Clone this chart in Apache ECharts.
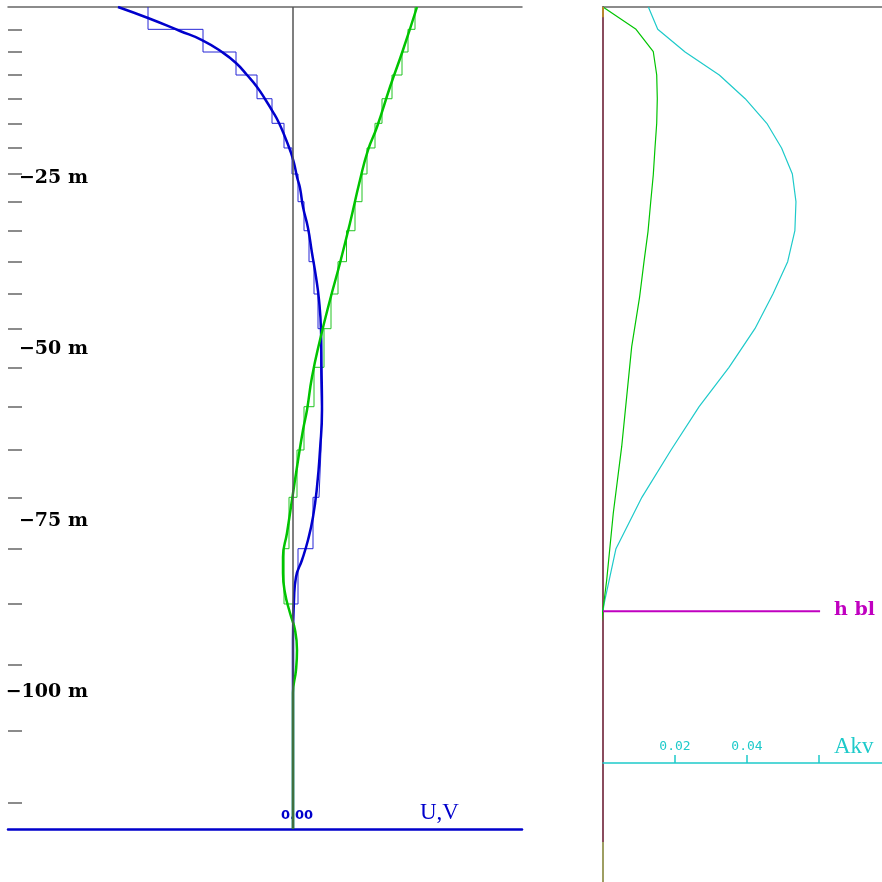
<!DOCTYPE html>
<html>
<head>
<meta charset="utf-8">
<script src="https://cdn.jsdelivr.net/npm/echarts@6/dist/echarts.min.js"></script>
<style>html,body{margin:0;padding:0;background:#fff}#c{width:882px;height:882px}</style>
</head>
<body>
<div id="c"></div>
<script>
// ---- data ----
const layerInterfaces = [0, -3.26, -6.57, -9.93, -13.39, -16.98, -20.58, -24.38, -28.42, -32.66, -37.18, -41.90, -46.96, -52.60, -58.35, -64.67, -71.58, -79.08, -87.15, -96.01, -105.65, -116.16, -120];
const depthLabels = [-25, -50, -75, -100];
const uLayer = [-0.145, -0.090, -0.057, -0.036, -0.021, -0.009, -0.001, 0.005, 0.011, 0.016, 0.021, 0.025, 0.0275, 0.0285, 0.028, 0.026, 0.020, 0.005, 0.0005, 0, 0, 0];
const vLayer = [0.122, 0.115, 0.109, 0.099, 0.089, 0.082, 0.074, 0.069, 0.062, 0.0535, 0.045, 0.038, 0.031, 0.021, 0.011, 0.004, -0.004, -0.009, 0, 0, 0, 0];
const uCurveDepth = [0, -1.61, -3.50, -4.82, -6.57, -8.18, -9.93, -11.68, -13.43, -15.33, -16.93, -18.98, -20.88, -22.77, -24.82, -26.42, -29.20, -32.26, -35.91, -39.42, -42.77, -47.15, -52.55, -58.83, -64.67, -70.07, -74.45, -77.81, -80.73, -83.21, -86.57, -92.41, -120];
const uCurveVal = [-0.175, -0.145, -0.113, -0.091, -0.071, -0.057, -0.046, -0.036, -0.028, -0.020, -0.014, -0.008, -0.003, 0.001, 0.004, 0.007, 0.010, 0.015, 0.019, 0.023, 0.026, 0.028, 0.0285, 0.029, 0.027, 0.024, 0.020, 0.015, 0.009, 0.003, 0.001, 0.000, 0];
const vCurveDepth = [0, -6.28, -11.68, -17.52, -20.88, -25.26, -31.53, -37.37, -42.77, -48.61, -54.01, -58.83, -61.75, -67.15, -71.97, -76.79, -80.29, -82.63, -85.55, -88.47, -90.95, -93.87, -96.79, -100.15, -120];
const vCurveVal = [0.124, 0.110, 0.097, 0.084, 0.075, 0.067, 0.057, 0.047, 0.037, 0.027, 0.019, 0.014, 0.010, 0.004, -0.001, -0.006, -0.010, -0.010, -0.008, -0.003, 0.002, 0.004, 0.003, 0, 0];
const akvDepth = [0, -3.26, -6.57, -9.93, -13.39, -16.98, -20.58, -24.38, -28.42, -32.66, -37.18, -41.90, -46.96, -52.60, -58.35, -64.67, -71.58, -79.08, -87.15, -88.2];
const akvVal = [0.0126, 0.0152, 0.0228, 0.0323, 0.0395, 0.0455, 0.0496, 0.0526, 0.0536, 0.0533, 0.0513, 0.0472, 0.0422, 0.0350, 0.0267, 0.0189, 0.0108, 0.0036, 0.0003, 0];
const g2Depth = [0, -3.26, -6.53, -9.93, -13.39, -16.98, -20.58, -24.48, -28.47, -32.80, -37.18, -42.44, -49.59, -64.19, -73.87, -83.65, -88.28, -127.45];
const g2Val = [0, 0.00917, 0.01397, 0.01492, 0.01508, 0.01492, 0.01444, 0.01397, 0.01325, 0.0125, 0.01139, 0.01014, 0.00797, 0.00519, 0.00286, 0.00103, -0.00008, -0.00936];
const hbl = -88.2;
const hblExtent = 0.0603;
const akvTicks = [0.02, 0.04, 0.06];
const akvLabels = [0.02, 0.04];
const bottomDepthRight = -127.74;
const oliveStart = -121.9;
const orangeEnd = -1.5;

// ---- build ----
function stepData(vals) {
  const out = [];
  for (let k = 0; k < vals.length; k++) {
    out.push([vals[k], layerInterfaces[k]]);
    out.push([vals[k], layerInterfaces[k + 1]]);
  }
  return out;
}
const zip = (xs, ys) => xs.map((x, i) => [x, ys[i]]);

const BLUE = '#0000CC', GREEN = '#00C400', CYAN = '#1ECACA', MAG = '#C000C0';
const chart = echarts.init(document.getElementById('c'));
const option = {
  animation: false,
  backgroundColor: '#fff',
  grid: [
    { left: 8, top: 7, width: 514, height: 822 },
    { left: 603, top: 7, width: 279, height: 875 },
    { left: 603, top: 700, width: 279, height: 63 }
  ],
  xAxis: [
    { gridIndex: 0, type: 'value', min: -0.285, max: 0.229, position: 'bottom',
      axisLine: { show: true, onZero: false, lineStyle: { color: BLUE, width: 2.5 } },
      axisTick: { show: false }, splitLine: { show: false },
      axisLabel: { inside: true, customValues: [0], formatter: v => v.toFixed(2), color: BLUE,
        fontWeight: 'bold', fontSize: 13, fontFamily: 'DejaVu Sans', margin: 7, padding: [0, 0, 0, 8] } },
    { gridIndex: 0, type: 'value', min: -0.285, max: 0.229, position: 'top',
      axisLine: { show: true, onZero: false, lineStyle: { color: '#666', width: 1.5 } },
      axisTick: { show: false }, axisLabel: { show: false }, splitLine: { show: false } },
    { gridIndex: 1, type: 'value', min: 0, max: 0.0775, position: 'top',
      axisLine: { show: true, onZero: false, lineStyle: { color: '#666', width: 1.5 } },
      axisTick: { show: false }, axisLabel: { show: false }, splitLine: { show: false } },
    { gridIndex: 2, type: 'value', min: 0, max: 0.0775, position: 'bottom',
      axisLine: { show: true, onZero: false, lineStyle: { color: CYAN, width: 1.5 } },
      axisTick: { show: true, inside: true, length: 8, customValues: akvTicks, lineStyle: { color: CYAN, width: 1.5 } },
      axisLabel: { inside: true, customValues: akvLabels, formatter: v => v.toFixed(2), color: CYAN,
        fontSize: 13, fontFamily: 'DejaVu Sans Mono', margin: 10 },
      splitLine: { show: false } }
  ],
  yAxis: [
    { gridIndex: 0, type: 'value', min: -120, max: 0,
      axisLine: { show: false, onZero: false },
      axisTick: { show: true, inside: true, length: 14, customValues: layerInterfaces.slice(1, -1), lineStyle: { color: '#666', width: 1.5 } },
      axisLabel: { inside: true, customValues: depthLabels, formatter: v => '\u2212' + Math.abs(v) + ' m',
        align: 'right', margin: 80, fontFamily: 'DejaVu Serif', fontWeight: 'bold', fontSize: 19, color: '#000' },
      splitLine: { show: false } },
    { gridIndex: 1, type: 'value', min: bottomDepthRight, max: 0,
      axisLine: { show: true, onZero: false, lineStyle: { color: '#8A4C5E', width: 2 } },
      axisTick: { show: false }, axisLabel: { show: false }, splitLine: { show: false } },
    { gridIndex: 2, type: 'value', min: 0, max: 1, show: false }
  ],
  series: [
    { type: 'line', xAxisIndex: 0, yAxisIndex: 0, data: stepData(uLayer), symbol: 'none',
      lineStyle: { color: '#2626D6', width: 1 },
      markLine: { silent: true, symbol: 'none', label: { show: false },
        lineStyle: { color: '#555', width: 1.5, type: 'solid' }, data: [{ xAxis: 0 }] } },
    { type: 'line', xAxisIndex: 0, yAxisIndex: 0, data: stepData(vLayer), symbol: 'none',
      lineStyle: { color: '#22C422', width: 1 } },
    { type: 'line', xAxisIndex: 0, yAxisIndex: 0, data: zip(uCurveVal, uCurveDepth), symbol: 'none', smooth: true,
      lineStyle: { color: BLUE, width: 2.5 } },
    { type: 'line', xAxisIndex: 0, yAxisIndex: 0, data: zip(vCurveVal, vCurveDepth), symbol: 'none', smooth: true,
      lineStyle: { color: GREEN, width: 2.5 } },
    { type: 'line', xAxisIndex: 2, yAxisIndex: 1, data: zip(akvVal, akvDepth), symbol: 'none',
      lineStyle: { color: CYAN, width: 1.2 } },
    { type: 'line', xAxisIndex: 2, yAxisIndex: 1, data: zip(g2Val, g2Depth), symbol: 'none', clip: false,
      lineStyle: { color: GREEN, width: 1.2 } },
    { type: 'line', xAxisIndex: 2, yAxisIndex: 1, data: [[0, oliveStart], [0, bottomDepthRight]], symbol: 'none',
      lineStyle: { color: '#9E9E62', width: 2 } },
    { type: 'line', xAxisIndex: 2, yAxisIndex: 1, data: [[0, 0], [0, orangeEnd]], symbol: 'none',
      lineStyle: { color: '#B8862E', width: 2 } },
    { type: 'line', xAxisIndex: 2, yAxisIndex: 1, data: [[0, hbl], [hblExtent, hbl]], symbol: 'none',
      lineStyle: { color: MAG, width: 2 } }
  ],
  graphic: [
    { type: 'text', left: 420, top: 801, style: { text: 'U,V', fill: BLUE, font: '23px "Liberation Serif"' } },
    { type: 'text', left: 834, top: 601, style: { text: 'h bl', fill: MAG, font: 'bold 19px "DejaVu Serif"' } },
    { type: 'text', left: 834, top: 735, style: { text: 'Akv', fill: CYAN, font: '23px "Liberation Serif"' } }
  ]
};
chart.setOption(option);
</script>
</body>
</html>
